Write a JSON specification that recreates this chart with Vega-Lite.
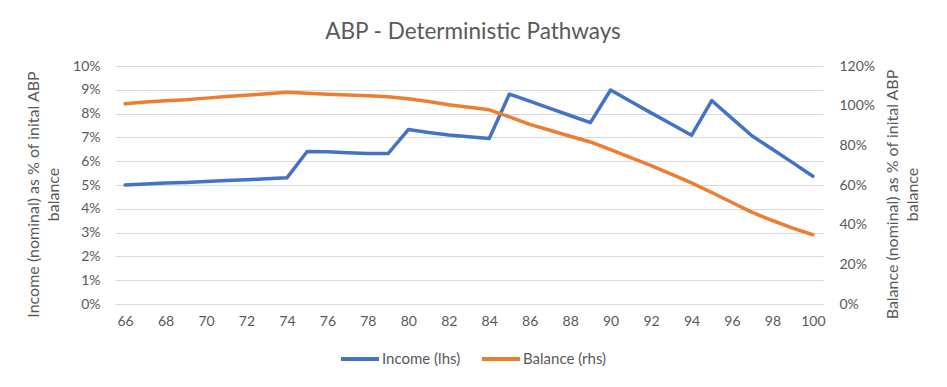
{
  "$schema": "https://vega.github.io/schema/vega-lite/v6.json",
  "width": 708,
  "height": 238,
  "autosize": {"type": "none"},
  "padding": {"left": 115, "top": 66, "right": 124, "bottom": 83},
  "background": "white",
  "title": {
    "text": "ABP - Deterministic Pathways",
    "font": "Lato",
    "fontSize": 22.5,
    "fontWeight": "normal",
    "color": "#595959",
    "anchor": "middle",
    "frame": "group",
    "baseline": "alphabetic",
    "offset": 0,
    "dy": 2,
    "dx": 4
  },
  "config": {
    "view": {"stroke": null},
    "font": "Lato",
    "axis": {
      "labelFont": "Lato",
      "labelFontSize": 14,
      "labelColor": "#595959",
      "titleFont": "Lato",
      "titleFontSize": 16,
      "titleFontWeight": "normal",
      "titleColor": "#595959",
      "ticks": false,
      "gridColor": "#d9d9d9",
      "gridWidth": 1.2
    }
  },
  "data": {
    "values": [
      {"age": 66, "series": "Income (lhs)", "value": 0.0500},
      {"age": 67, "series": "Income (lhs)", "value": 0.0504},
      {"age": 68, "series": "Income (lhs)", "value": 0.0508},
      {"age": 69, "series": "Income (lhs)", "value": 0.0511},
      {"age": 70, "series": "Income (lhs)", "value": 0.0515},
      {"age": 71, "series": "Income (lhs)", "value": 0.0519},
      {"age": 72, "series": "Income (lhs)", "value": 0.0522},
      {"age": 73, "series": "Income (lhs)", "value": 0.0526},
      {"age": 74, "series": "Income (lhs)", "value": 0.0530},
      {"age": 75, "series": "Income (lhs)", "value": 0.0641},
      {"age": 76, "series": "Income (lhs)", "value": 0.0640},
      {"age": 77, "series": "Income (lhs)", "value": 0.0636},
      {"age": 78, "series": "Income (lhs)", "value": 0.0632},
      {"age": 79, "series": "Income (lhs)", "value": 0.0632},
      {"age": 80, "series": "Income (lhs)", "value": 0.0733},
      {"age": 81, "series": "Income (lhs)", "value": 0.0721},
      {"age": 82, "series": "Income (lhs)", "value": 0.0710},
      {"age": 83, "series": "Income (lhs)", "value": 0.0703},
      {"age": 84, "series": "Income (lhs)", "value": 0.0695},
      {"age": 85, "series": "Income (lhs)", "value": 0.0882},
      {"age": 86, "series": "Income (lhs)", "value": 0.0852},
      {"age": 87, "series": "Income (lhs)", "value": 0.0822},
      {"age": 88, "series": "Income (lhs)", "value": 0.0792},
      {"age": 89, "series": "Income (lhs)", "value": 0.0762},
      {"age": 90, "series": "Income (lhs)", "value": 0.0899},
      {"age": 91, "series": "Income (lhs)", "value": 0.0851},
      {"age": 92, "series": "Income (lhs)", "value": 0.0803},
      {"age": 93, "series": "Income (lhs)", "value": 0.0756},
      {"age": 94, "series": "Income (lhs)", "value": 0.0709},
      {"age": 95, "series": "Income (lhs)", "value": 0.0855},
      {"age": 96, "series": "Income (lhs)", "value": 0.0780},
      {"age": 97, "series": "Income (lhs)", "value": 0.0706},
      {"age": 98, "series": "Income (lhs)", "value": 0.0650},
      {"age": 99, "series": "Income (lhs)", "value": 0.0594},
      {"age": 100, "series": "Income (lhs)", "value": 0.0537},
      {"age": 66, "series": "Balance (rhs)", "value": 1.010},
      {"age": 67, "series": "Balance (rhs)", "value": 1.018},
      {"age": 68, "series": "Balance (rhs)", "value": 1.025},
      {"age": 69, "series": "Balance (rhs)", "value": 1.030},
      {"age": 70, "series": "Balance (rhs)", "value": 1.038},
      {"age": 71, "series": "Balance (rhs)", "value": 1.046},
      {"age": 72, "series": "Balance (rhs)", "value": 1.052},
      {"age": 73, "series": "Balance (rhs)", "value": 1.060},
      {"age": 74, "series": "Balance (rhs)", "value": 1.068},
      {"age": 75, "series": "Balance (rhs)", "value": 1.063},
      {"age": 76, "series": "Balance (rhs)", "value": 1.058},
      {"age": 77, "series": "Balance (rhs)", "value": 1.054},
      {"age": 78, "series": "Balance (rhs)", "value": 1.050},
      {"age": 79, "series": "Balance (rhs)", "value": 1.045},
      {"age": 80, "series": "Balance (rhs)", "value": 1.035},
      {"age": 81, "series": "Balance (rhs)", "value": 1.021},
      {"age": 82, "series": "Balance (rhs)", "value": 1.005},
      {"age": 83, "series": "Balance (rhs)", "value": 0.992},
      {"age": 84, "series": "Balance (rhs)", "value": 0.979},
      {"age": 85, "series": "Balance (rhs)", "value": 0.943},
      {"age": 86, "series": "Balance (rhs)", "value": 0.906},
      {"age": 87, "series": "Balance (rhs)", "value": 0.876},
      {"age": 88, "series": "Balance (rhs)", "value": 0.846},
      {"age": 89, "series": "Balance (rhs)", "value": 0.817},
      {"age": 90, "series": "Balance (rhs)", "value": 0.778},
      {"age": 91, "series": "Balance (rhs)", "value": 0.738},
      {"age": 92, "series": "Balance (rhs)", "value": 0.698},
      {"age": 93, "series": "Balance (rhs)", "value": 0.655},
      {"age": 94, "series": "Balance (rhs)", "value": 0.611},
      {"age": 95, "series": "Balance (rhs)", "value": 0.562},
      {"age": 96, "series": "Balance (rhs)", "value": 0.512},
      {"age": 97, "series": "Balance (rhs)", "value": 0.462},
      {"age": 98, "series": "Balance (rhs)", "value": 0.421},
      {"age": 99, "series": "Balance (rhs)", "value": 0.383},
      {"age": 100, "series": "Balance (rhs)", "value": 0.349}
    ]
  },
  "encoding": {
    "x": {
      "field": "age",
      "type": "ordinal",
      "scale": {"type": "point", "padding": 0.5},
      "axis": {
        "title": null,
        "labelAngle": 0,
        "values": [66, 68, 70, 72, 74, 76, 78, 80, 82, 84, 86, 88, 90, 92, 94, 96, 98, 100],
        "domain": true,
        "domainColor": "#d9d9d9",
        "domainWidth": 1.2,
        "labelPadding": 10,
        "grid": false
      }
    },
    "color": {
      "field": "series",
      "type": "nominal",
      "scale": {"domain": ["Income (lhs)", "Balance (rhs)"], "range": ["#4472C4", "#ED7D31"]},
      "legend": {
        "title": null,
        "orient": "none",
        "legendX": 224,
        "legendY": 272,
        "direction": "horizontal",
        "symbolType": "stroke",
        "symbolSize": 1444,
        "symbolStrokeWidth": 4,
        "labelFont": "Lato",
        "labelFontSize": 15,
        "labelColor": "#595959",
        "labelOffset": 1,
        "columnPadding": 13
      }
    }
  },
  "layer": [
    {
      "transform": [{"filter": "datum.series === 'Income (lhs)'"}],
      "mark": {"type": "line", "strokeWidth": 3.5, "strokeCap": "round", "strokeJoin": "round"},
      "encoding": {
        "y": {
          "field": "value",
          "type": "quantitative",
          "scale": {"domain": [0, 0.1], "nice": false, "zero": true},
          "axis": {
            "orient": "left",
            "format": ".0%",
            "values": [0, 0.01, 0.02, 0.03, 0.04, 0.05, 0.06, 0.07, 0.08, 0.09, 0.1],
            "domain": false,
            "grid": true,
            "labelPadding": 15,
            "title": ["Income (nominal)  as % of inital ABP", "balance"],
            "titleAngle": 270,
            "titleAlign": "center",
            "titleBaseline": "middle",
            "titleLineHeight": 20,
            "titleX": -81.5,
            "titleY": 128
          }
        }
      }
    },
    {
      "transform": [{"filter": "datum.series === 'Balance (rhs)'"}],
      "mark": {"type": "line", "strokeWidth": 3.5, "strokeCap": "round", "strokeJoin": "round"},
      "encoding": {
        "y": {
          "field": "value",
          "type": "quantitative",
          "scale": {"domain": [0, 1.2], "nice": false, "zero": true},
          "axis": {
            "orient": "right",
            "format": ".0%",
            "values": [0, 0.2, 0.4, 0.6, 0.8, 1.0, 1.2],
            "domain": false,
            "grid": false,
            "labelPadding": 16,
            "title": ["Balance (nominal) as % of inital ABP", "balance"],
            "titleAngle": 270,
            "titleAlign": "center",
            "titleBaseline": "middle",
            "titleLineHeight": 20,
            "titleX": 69.5,
            "titleY": 128
          }
        }
      }
    }
  ],
  "resolve": {"scale": {"y": "independent"}, "axis": {"y": "independent"}}
}
